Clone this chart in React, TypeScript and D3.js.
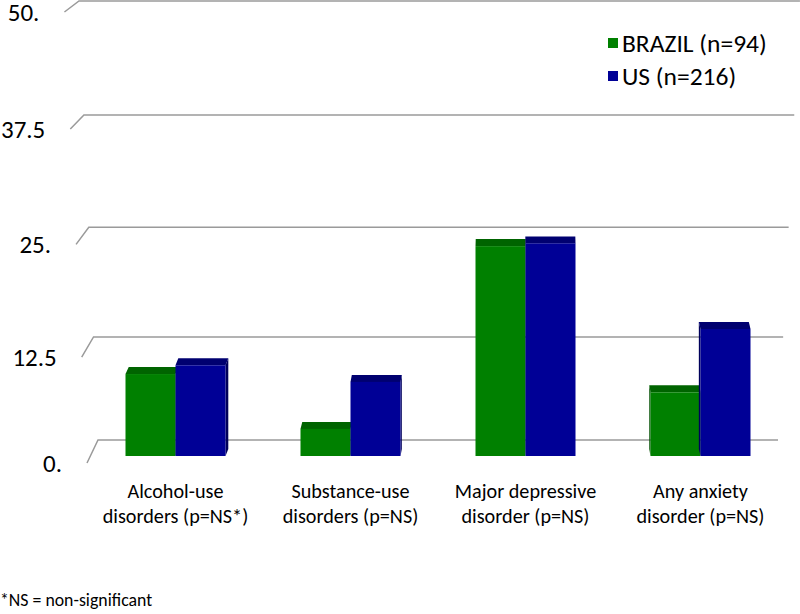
import React from "react";
import * as d3 from "d3";

const categoryLine1 = ["Alcohol-use", "Substance-use", "Major depressive", "Any anxiety"];
const categoryLine2 = ["disorders (p=NS*)", "disorders (p=NS)", "disorder (p=NS)", "disorder (p=NS)"];
const seriesNames = ["BRAZIL (n=94)", "US (n=216)"];
const brazilValues = [9.8, 3.4, 24.1, 7.7];
const usValues = [10.8, 8.9, 24.4, 14.9];
const yTicks = [0, 12.5, 25, 37.5, 50];
const yTickLabels = ["0.", "12.5", "25.", "37.5", "50."];
const footnote = "*NS = non-significant";

const W = 800;
const H = 614;
const FONT = "Carlito, Lato, sans-serif";
const frontColors = ["#008000", "#000096"];
const topColors = ["#006400", "#000070"];
const sideColors = ["#004f00", "#00005a"];

export default function App() {
  const yBack = d3.scalePow().exponent(1.045).domain([0, 50]).range([440, 1]);
  const yFrontAxis = d3.scalePow().exponent(1.045).domain([0, 50]).range([463, 12]);
  const yBar = d3.scalePow().exponent(1.045).domain([0, 50]).range([456, 6]);
  const x = d3
    .scaleBand<number>()
    .domain(d3.range(categoryLine1.length))
    .range([88, 788])
    .paddingInner(75 / 175)
    .paddingOuter(75 / 350);
  const xs = d3.scaleBand<number>().domain([0, 1]).range([0, x.bandwidth()]);
  const seriesValues = [brazilValues, usValues];
  const vp = 530;
  const depth = 7;
  const base = yBar(0);

  const bars: JSX.Element[] = [];
  categoryLine1.forEach((_, i) => {
    seriesValues.forEach((vals, s) => {
      const x0 = (x(i) as number) + (xs(s) as number);
      const x1 = x0 + xs.bandwidth();
      const yt = yBar(vals[i]);
      const cx = (x0 + x1) / 2;
      const dx = (vp - cx) * 0.0085;
      const side =
        dx > 0
          ? `M${x1},${yt} L${x1 + dx},${yt - depth} L${x1 + dx},${base - depth} L${x1},${base} Z`
          : `M${x0},${yt} L${x0 + dx},${yt - depth} L${x0 + dx},${base - depth} L${x0},${base} Z`;
      const top = `M${x0},${yt} L${x1},${yt} L${x1 + dx},${yt - depth} L${x0 + dx},${yt - depth} Z`;
      bars.push(
        <g key={`${i}-${s}`}>
          <path d={side} fill={sideColors[s]} />
          <path d={top} fill={topColors[s]} />
          <rect x={x0} y={yt} width={x1 - x0} height={base - yt} fill={frontColors[s]} />
        </g>
      );
    });
  });

  return (
    <svg
      width={W}
      height={H}
      style={{ position: "fixed", left: 0, top: 0, background: "#fff" }}
      fontFamily={FONT}
    >
      <rect width={W} height={H} fill="#fff" />
      {yTicks.map((t, i) => {
        const yb = yBack(t);
        const yf = yFrontAxis(t);
        const xbL = 98 - (440 - yb) * 0.0433;
        const xbR = 778 + (440 - yb) * 0.05;
        const xf = 87 - (463 - yf) * 0.05;
        return (
          <g key={t}>
            <path
              d={`M${xf},${yf} L${xbL},${yb} L${xbR},${yb}`}
              fill="none"
              stroke="#9a9a9a"
              strokeWidth={1.5}
            />
            <text
              x={xf - 25}
              y={yf + 8.5}
              textAnchor="end"
              fontSize={25}
              fill="#000"
            >
              {yTickLabels[i]}
            </text>
          </g>
        );
      })}
      {bars}
      {categoryLine1.map((c, i) => {
        const cx = (x(i) as number) + x.bandwidth() / 2;
        return (
          <text key={c} x={cx} textAnchor="middle" fontSize={20.2} fill="#000">
            <tspan x={cx} y={498}>
              {c}
            </tspan>
            <tspan x={cx} y={523}>
              {categoryLine2[i]}
            </tspan>
          </text>
        );
      })}
      {seriesNames.map((n, s) => (
        <g key={n} transform={`translate(608,${43 + s * 33})`}>
          <rect x={0} y={-5} width={10} height={10} fill={frontColors[s]} />
          <text x={14} y={8.5} fontSize={25.5} fill="#000">
            {n}
          </text>
        </g>
      ))}
      <text x={0} y={606} fontSize={17.8} fill="#000">
        {footnote}
      </text>
    </svg>
  );
}
